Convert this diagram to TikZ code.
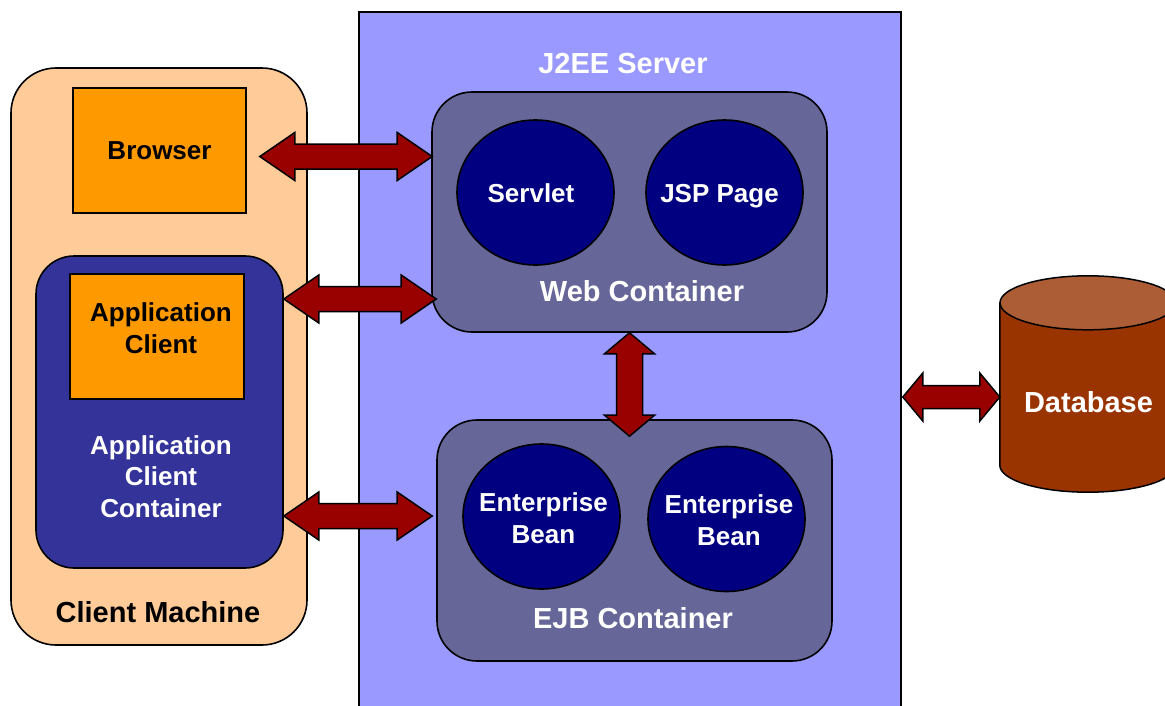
\documentclass[tikz,border=0pt]{standalone}
\usepackage{fontspec}
\setmainfont{Liberation Sans}
\usetikzlibrary{calc,shapes.geometric}
\definecolor{peach}{HTML}{FFCC99}
\definecolor{orangebox}{HTML}{FF9900}
\definecolor{accblue}{HTML}{333399}
\definecolor{serverblue}{HTML}{9999FF}
\definecolor{contgray}{HTML}{666699}
\definecolor{navyfill}{HTML}{000080}
\definecolor{arrowred}{HTML}{990000}
\definecolor{dbbody}{HTML}{993300}
\definecolor{dbtop}{HTML}{AD5D35}
\newcommand\txtS{\fontsize{26}{31.5}\selectfont\bfseries}
\newcommand\txtL{\fontsize{29}{34}\selectfont\bfseries}
% horizontal double block arrow: left tip, right tip, head length, half head, half shaft
\newcommand\harr[5]{\draw[barrow] (#1) -- ++(#3,-#4) -- ++(0,#4-#5) -- ($(#2)+(-#3,-#5)$) -- ++(0,-#4+#5) -- (#2) -- ++(-#3,#4) -- ++(0,-#4+#5) -- ($(#1)+(#3,#5)$) -- ++(0,#4-#5) -- cycle;}
% vertical double block arrow: top tip, bottom tip, head length, half head, half shaft
\newcommand\varr[5]{\draw[barrow] (#1) -- ++(#4,#3) -- ++(-#4+#5,0) -- ($(#2)+(#5,-#3)$) -- ++(#4-#5,0) -- (#2) -- ++(-#4,-#3) -- ++(#4-#5,0) -- ($(#1)+(-#5,#3)$) -- ++(-#4+#5,0) -- cycle;}
\tikzset{
  outl/.style={draw=black, line width=1.6pt, inner sep=0pt},
  sqbox/.style={outl, rectangle, fill=orangebox},
  rbox/.style={outl, rectangle, rounded corners=#1},
  bean/.style={outl, ellipse, fill=navyfill, minimum width=157pt, minimum height=145pt},
  lblS/.style={font=\txtS, anchor=base, align=center, inner sep=0pt},
  lblL/.style={font=\txtL, anchor=base, align=center, inner sep=0pt},
  barrow/.style={fill=arrowred, draw=black, line width=1.5pt, line join=miter},
  dbshape/.style={draw=black, line width=1.5pt}
}
\begin{document}
\begin{tikzpicture}[x=1pt,y=-1pt]
\useasboundingbox (0,0) rectangle (1165,705);
\clip (0,0) rectangle (1165,705);
\fill[white] (0,0) rectangle (1165,705);

% J2EE server
\node[outl, rectangle, fill=serverblue, minimum width=542pt, minimum height=700pt] (j2ee) at (630,362) {};
\node[lblL, text=white] (j2eelbl) at (623,73) {J2EE Server};

% client machine
\node[rbox=45pt, fill=peach, minimum width=296pt, minimum height=577pt] (client) at (159,356.5) {};
\node[lblL, text=black] (clientlbl) at (158,622) {Client Machine};
\node[sqbox, minimum width=173pt, minimum height=125pt] (browser) at (159.5,150.5) {};
\node[lblS, text=black] (browserlbl) at (159.5,159) {Browser};
\node[rbox=38pt, fill=accblue, minimum width=247pt, minimum height=312pt] (acc) at (159.5,412) {};
\node[sqbox, minimum width=174pt, minimum height=125pt] (appclient) at (157,336.5) {};
\node[lblS, text=black] (appclientlbl) at (161,353) {Application\\Client};
\node[lblS, text=white] (acclbl) at (161,517) {Application\\Client\\Container};

% web container
\node[rbox=40pt, fill=contgray, minimum width=395pt, minimum height=240pt] (web) at (629.5,212) {};
\node[lblL, text=white] (weblbl) at (642,301) {Web Container};
\node[bean] (servlet) at (535.5,192.5) {};
\node[lblS, text=white] (servletlbl) at (531,202) {Servlet};
\node[bean] (jsp) at (724.5,192.5) {};
\node[lblS, text=white] (jsplbl) at (719.5,202) {JSP Page};

% EJB container
\node[rbox=40pt, fill=contgray, minimum width=395pt, minimum height=241pt] (ejb) at (634.5,540.5) {};
\node[lblL, text=white] (ejblbl) at (633,628) {EJB Container};
\node[bean] (eb1) at (541.5,516.5) {};
\node[lblS, text=white] (eb1lbl) at (543.5,543) {Enterprise\\Bean};
\node[bean] (eb2) at (726.5,519) {};
\node[lblS, text=white] (eb2lbl) at (729,545) {Enterprise\\Bean};

% database
\node[minimum width=176pt, minimum height=216pt, inner sep=0pt] (db) at (1088,384) {};
\draw[dbshape, fill=dbbody] ($(db.north west)+(0,27)$) -- ($(db.south west)+(0,-27)$)
  arc[start angle=180, end angle=0, x radius=88, y radius=27]
  -- ($(db.north east)+(0,27)$) -- cycle;
\draw[dbshape, fill=dbtop] ($(db.north)+(0,27)$) ellipse[x radius=88, y radius=27];
\node[lblL, text=white] (dblbl) at (1088.5,412) {Database};

% connectors
\coordinate (a1l) at ($(browser.east)+(13,6)$);
\coordinate (a1r) at ($(web.west |- a1l)+(1,0)$);
\harr{a1l}{a1r}{35}{24}{12.5}
\coordinate (a2l) at (acc.east |- 0,299);
\coordinate (a2r) at ($(web.west |- a2l)+(5,0)$);
\harr{a2l}{a2r}{35}{24}{12.5}
\coordinate (a3l) at (acc.east |- 0,516);
\coordinate (a3r) at ($(ejb.west |- a3l)+(-4,0)$);
\harr{a3l}{a3r}{35}{24}{12.5}
\coordinate (vt) at (web.south);
\coordinate (vb) at ($(web.south |- ejb.north)+(0,17)$);
\varr{vt}{vb}{21}{25}{13}
\coordinate (a5l) at ($(j2ee.east |- 0,397)+(1,0)$);
\coordinate (a5r) at (db.west |- a5l);
\harr{a5l}{a5r}{20}{24}{11.5}
\end{tikzpicture}
\end{document}
